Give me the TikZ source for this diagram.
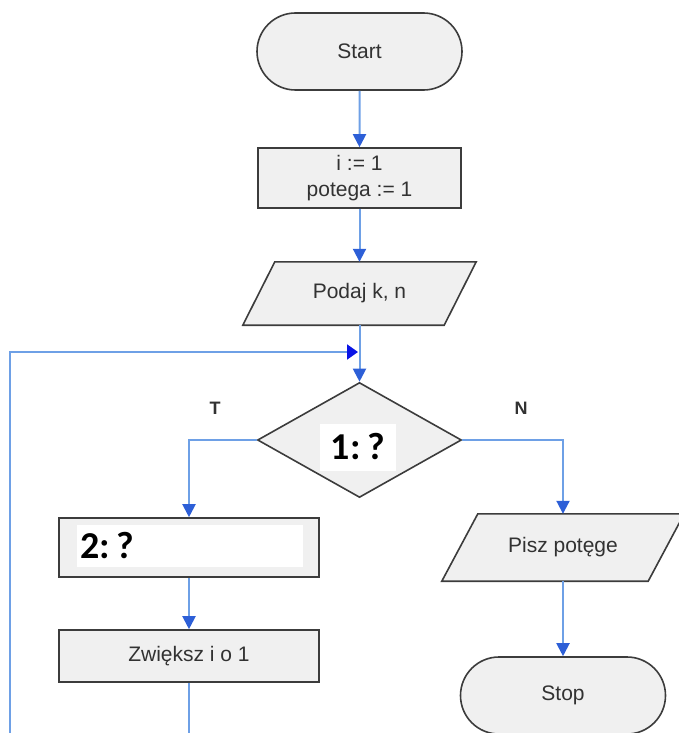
\documentclass[tikz,border=0pt]{standalone}
\usepackage{fontspec}
\setmainfont{Liberation Sans}
\newfontfamily\calfont{Carlito}
\usetikzlibrary{shapes.geometric,shapes.misc,arrows.meta,backgrounds}
\definecolor{shapefill}{RGB}{240,240,240}
\definecolor{shapeline}{RGB}{60,60,60}
\definecolor{connc}{RGB}{110,160,230}
\definecolor{headc}{RGB}{45,95,215}
\definecolor{loopc}{RGB}{10,20,230}
\definecolor{txt}{RGB}{50,50,50}
\tikzset{
 base/.style={draw=shapeline, fill=shapefill, line width=1.6pt, text=txt, font=\fontsize{21}{26}\selectfont, inner sep=0pt, align=center},
 term/.style={base, rounded rectangle, minimum width=205pt, minimum height=77pt},
 proc/.style={base, rectangle, minimum width=260pt, minimum height=59pt},
 iobox/.style={rectangle, inner sep=0pt, text=txt, font=\fontsize{21}{26}\selectfont},
 para/.style={draw=shapeline, fill=shapefill, line width=1.6pt},
 conn/.style={draw=connc, line width=2pt},
 arr/.style={conn, -{Triangle[width=13pt,length=13pt,color=headc]}},
 looparr/.style={conn, -{Triangle[width=15pt,length=11pt,color=loopc]}},
 qbox/.style={fill=white, inner sep=0pt, text=black, font=\calfont\bfseries\fontsize{38}{38}\selectfont},
 lbl/.style={text=txt, font=\bfseries\fontsize{18}{18}\selectfont},
}
\begin{document}
\begin{tikzpicture}[x=1pt,y=-1pt]
\useasboundingbox (0,0) rectangle (678,733);
\clip (0,0) rectangle (678,733);
\node[term] (start) at (359.5,51.5) {Start};
\node[proc, minimum width=203pt, minimum height=60pt] (init) at (359.5,178) {i := 1\\potega := 1};
\node[iobox, minimum width=201pt, minimum height=63pt] (read) at (359.5,293.5) {Podaj k, n};
\node[base, diamond, minimum width=204pt, minimum height=115pt] (dec) at (359.5,440) {};
\node[qbox, minimum width=76pt, minimum height=47pt] (q1) at (358,447) {1:\hspace{0.18em}?};
\node[lbl] (t) at (215,408) {T};
\node[lbl] (n) at (521,408) {N};
\node[proc] (b2) at (189,547.5) {};
\node[qbox, minimum width=226pt, minimum height=42pt, text width=220pt, align=left, inner xsep=3pt] (q2) at (190,546) {2:\hspace{0.18em}?};
\node[proc, minimum height=52pt] (inc) at (189,656) {Zwiększ i o 1};
\node[iobox, minimum width=206pt, minimum height=67pt] (write) at (563,547.5) {Pisz potęge};
\node[term] (stop) at (563,695.5) {Stop};
\begin{scope}[on background layer]
\draw[para] ([xshift=16pt]read.north west) -- ([xshift=16pt]read.north east) -- ([xshift=-16pt]read.south east) -- ([xshift=-16pt]read.south west) -- cycle;
\draw[para] ([xshift=18pt]write.north west) -- ([xshift=18pt]write.north east) -- ([xshift=-18pt]write.south east) -- ([xshift=-18pt]write.south west) -- cycle;
\end{scope}
\coordinate (bl) at (189,745);
\coordinate (loopb) at (10,745);
\coordinate (loopc) at (10,352);
\coordinate (join) at (358,352);
\draw[arr] (start) -- (init);
\draw[arr] (init) -- (read);
\draw[arr] (read) -- (dec);
\draw[looparr] (loopb) -- (loopc) -- (join);
\draw[arr] (dec.west) -| (b2.north);
\draw[arr] (dec.east) -| (write.north);
\draw[arr] (b2) -- (inc);
\draw[conn] (inc) -- (bl);
\draw[arr] (write) -- (stop);
\end{tikzpicture}
\end{document}
